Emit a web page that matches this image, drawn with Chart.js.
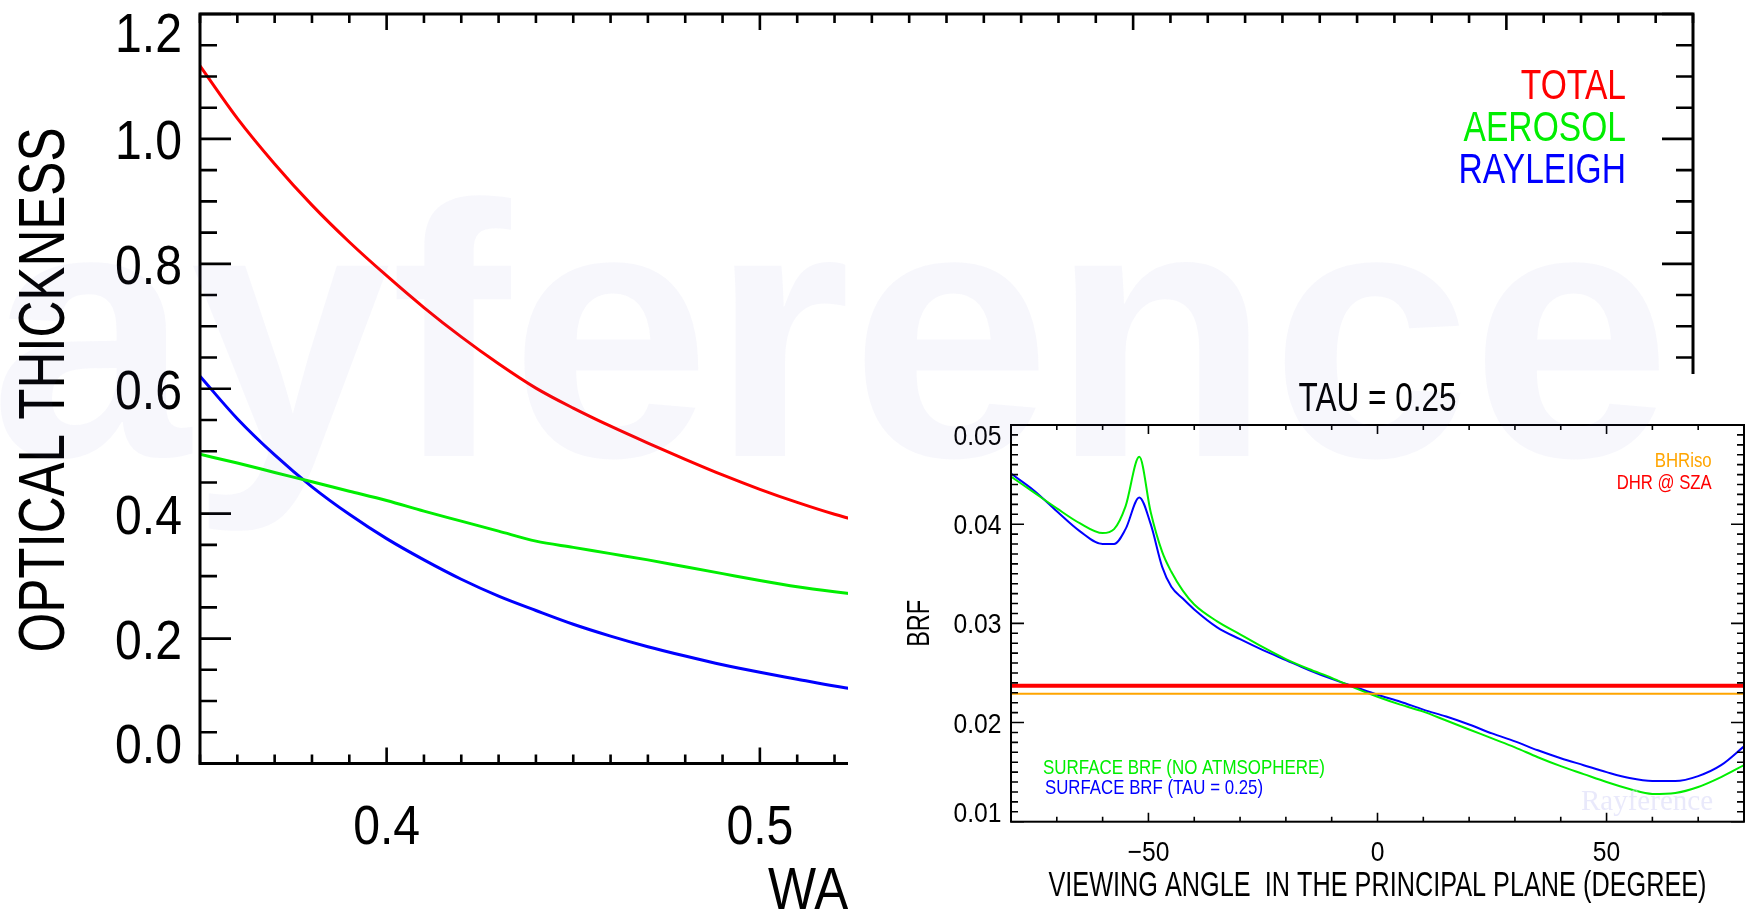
<!DOCTYPE html>
<html><head><meta charset="utf-8">
<script src="https://cdn.jsdelivr.net/npm/chart.js@4.4.1/dist/chart.umd.min.js"></script>
<style>
html,body{margin:0;padding:0;background:#fff;overflow:hidden;width:1750px;height:912px}
#main{position:absolute;left:0;top:0}
#inset{position:absolute;left:848px;top:374px;background:#fff}
#wm{position:absolute;left:0;top:0;pointer-events:none}
</style></head><body>
<canvas id="main" width="1750" height="912"></canvas>
<canvas id="inset" width="902" height="538"></canvas>
<canvas id="wm" width="1750" height="912"></canvas>
<script>
// ---------- main chart data ----------
const wavelength  = [0.35,0.36,0.37,0.38,0.39,0.40,0.41,0.42,0.43,0.44,0.45,0.46,0.47,0.48,0.49,0.50,0.51,0.52,0.53];
const totalTau    = [1.117,1.033,0.960,0.894,0.835,0.781,0.730,0.683,0.640,0.601,0.569,0.540,0.513,0.487,0.462,0.439,0.418,0.399,0.383];
const aerosolTau  = [0.495,0.481,0.466,0.451,0.436,0.421,0.404,0.388,0.372,0.356,0.346,0.336,0.326,0.315,0.304,0.293,0.283,0.275,0.268];
const rayleighTau = [0.620,0.552,0.494,0.443,0.399,0.360,0.326,0.295,0.268,0.245,0.223,0.204,0.187,0.172,0.158,0.146,0.135,0.124,0.115];
const mainXTicks = [0.4,0.5,0.6,0.7];
const mainXTickLabels = ['0.4','0.5','0.6','0.7'];
const mainYTicks = [0,0.2,0.4,0.6,0.8,1.0,1.2];
const mainYTickLabels = ['0.0','0.2','0.4','0.6','0.8','1.0','1.2'];
const mainLegend = ['TOTAL','AEROSOL','RAYLEIGH'];

// ---------- inset chart data ----------
const viewAngle = [-80,-75,-70,-65,-60,-57.5,-55,-52,-49.5,-47,-45,-42.5,-40,-35,-30,-25,-20,-15,-10,-5,0,5,10,15,20,25,30,35,40,45,50,55,60,65,70,75,80];
const brfNoAtm  = [0.0448,0.0432,0.0416,0.0401,0.0391,0.0395,0.0418,0.0468,0.0412,0.0372,0.0352,0.0333,0.0319,0.0302,0.0289,0.0276,0.0264,0.0254,0.0245,0.0235,0.0226,0.0218,0.0211,0.0202,0.0193,0.0184,0.0175,0.0165,0.0156,0.0148,0.0140,0.0133,0.0128,0.0129,0.0135,0.0145,0.0157];
const brfTau    = [0.0451,0.0434,0.0413,0.0393,0.0380,0.0380,0.0395,0.0427,0.0400,0.0357,0.0337,0.0325,0.0314,0.0296,0.0284,0.0273,0.0263,0.0253,0.0244,0.0236,0.0228,0.0221,0.0213,0.0206,0.0198,0.0189,0.0181,0.0172,0.0164,0.0157,0.0150,0.0144,0.0141,0.0141,0.0146,0.0157,0.0176];
const bhrIso = [0.0229,0.0229];
const dhrSza = [0.0237,0.0237];
const flatAngles = [-80,80];
const insetXTicks = [-50,0,50];
const insetXTickLabels = ['\u221250','0','50'];
const insetYTicks = [0.01,0.02,0.03,0.04,0.05];
const insetYTickLabels = ['0.01','0.02','0.03','0.04','0.05'];

const FONT = '"Liberation Sans", Arial, Helvetica, sans-serif';
const RED = '#ff0000', GREEN = '#00ee00', BLUE = '#0000ff', ORANGE = '#ffa500';

// text helper: (x, yc) = anchor, yc is vertical centre of capitals
function txt(ctx, s, x, yc, size, color, align, opt) {
  opt = opt || {};
  ctx.save();
  ctx.font = (opt.weight ? opt.weight + ' ' : '') + size + 'px ' + (opt.family || FONT);
  ctx.fillStyle = color;
  ctx.textBaseline = 'alphabetic';
  ctx.textAlign = align;
  ctx.translate(x, yc);
  if (opt.rot) ctx.rotate(opt.rot);
  let sx = opt.sx || 1;
  if (opt.width) sx = opt.width / ctx.measureText(s).width;
  ctx.scale(sx, 1);
  ctx.fillText(s, 0, size * 0.716 / 2);
  ctx.restore();
}
function pairs(xs, ys) { return xs.map((v, i) => ({x: v, y: ys[i]})); }
function clamp(v, lo, hi) { return Math.max(lo, Math.min(hi, v)); }

// ---------- main chart ----------
const mainAxes = {
  id: 'mainAxes',
  afterDraw(chart) {
    const {ctx, chartArea: a, scales: {x, y}} = chart;
    ctx.save();
    ctx.strokeStyle = '#000';
    ctx.lineCap = 'butt';
    ctx.lineWidth = 3;
    ctx.strokeRect(a.left, a.top, a.right - a.left, a.bottom - a.top);
    ctx.lineWidth = 2.6;
    ctx.beginPath();
    for (let i = 35; i <= 75; i++) {
      const px = x.getPixelForValue(i / 100);
      const len = (i % 10 === 0) ? 16 : 9;
      ctx.moveTo(px, a.bottom); ctx.lineTo(px, a.bottom - len);
      ctx.moveTo(px, a.top); ctx.lineTo(px, a.top + len);
    }
    for (let i = 0; i <= 24; i++) {
      const py = y.getPixelForValue(i * 0.05);
      const len = (i % 4 === 0) ? 31 : 17;
      ctx.moveTo(a.left, py); ctx.lineTo(a.left + len, py);
      ctx.moveTo(a.right, py); ctx.lineTo(a.right - len, py);
    }
    ctx.stroke();
    ctx.restore();
    mainYTicks.forEach((v, i) => {
      const py = clamp(y.getPixelForValue(v), a.top + 18, a.bottom - 21);
      txt(ctx, mainYTickLabels[i], a.left - 18, py, 56, '#000', 'right', {sx: 0.86});
    });
    mainXTicks.forEach((v, i) => {
      txt(ctx, mainXTickLabels[i], x.getPixelForValue(v), a.bottom + 60, 56, '#000', 'center', {sx: 0.86});
    });
    txt(ctx, 'OPTICAL THICKNESS', 41, 390, 65, '#000', 'center', {rot: -Math.PI / 2, width: 525});
    // x-axis title: only "WA" is visible, the rest lies behind the inset panel
    txt(ctx, 'WA', 768, 888, 60, '#000', 'left', {sx: 0.85});
    txt(ctx, 'VELENGTH', 852, 888, 60, '#000', 'left', {sx: 0.85});
    const lc = [RED, GREEN, BLUE];
    mainLegend.forEach((s, i) => {
      txt(ctx, s, 1626, 84 + i * 42, 42, lc[i], 'right', {sx: 0.8});
    });
  }
};

new Chart(document.getElementById('main'), {
  type: 'line',
  data: {
    datasets: [
      {label: 'TOTAL', data: pairs(wavelength, totalTau), borderColor: RED, borderWidth: 3},
      {label: 'AEROSOL', data: pairs(wavelength, aerosolTau), borderColor: GREEN, borderWidth: 3},
      {label: 'RAYLEIGH', data: pairs(wavelength, rayleighTau), borderColor: BLUE, borderWidth: 3}
    ]
  },
  options: {
    responsive: false, animation: false, devicePixelRatio: 1,
    layout: {padding: {left: 200, top: 14, right: 57, bottom: 148.5}},
    elements: {point: {radius: 0}, line: {cubicInterpolationMode: 'monotone', fill: false}},
    plugins: {legend: {display: false}, tooltip: {enabled: false}},
    scales: {
      x: {type: 'linear', min: 0.35, max: 0.75, display: false},
      y: {type: 'linear', min: 0, max: 1.2, display: false}
    }
  },
  plugins: [mainAxes]
});

// ---------- inset chart ----------
const insetAxes = {
  id: 'insetAxes',
  afterDraw(chart) {
    const {ctx, chartArea: a, scales: {x, y}} = chart;
    ctx.save();
    ctx.strokeStyle = '#000';
    ctx.lineWidth = 2;
    ctx.strokeRect(a.left, a.top, a.right - a.left, a.bottom - a.top);
    ctx.lineWidth = 1.6;
    ctx.beginPath();
    for (let i = -8; i <= 8; i++) {
      const px = x.getPixelForValue(i * 10);
      const len = (i % 5 === 0) ? 9 : 5;
      ctx.moveTo(px, a.bottom); ctx.lineTo(px, a.bottom - len);
      ctx.moveTo(px, a.top); ctx.lineTo(px, a.top + len);
    }
    for (let i = 10; i <= 50; i++) {
      const py = y.getPixelForValue(i / 1000);
      const len = (i % 10 === 0) ? 13 : 7;
      ctx.moveTo(a.left, py); ctx.lineTo(a.left + len, py);
      ctx.moveTo(a.right, py); ctx.lineTo(a.right - len, py);
    }
    ctx.stroke();
    ctx.restore();
    insetYTicks.forEach((v, i) => {
      const py = clamp(y.getPixelForValue(v), a.top + 10, a.bottom - 10);
      txt(ctx, insetYTickLabels[i], a.left - 9.5, py, 28, '#000', 'right', {sx: 0.88});
    });
    insetXTicks.forEach((v, i) => {
      txt(ctx, insetXTickLabels[i], x.getPixelForValue(v), a.bottom + 29.5, 28, '#000', 'center', {sx: 0.88});
    });
    const cx = (a.left + a.right) / 2;
    txt(ctx, 'TAU = 0.25', cx, 23, 40, '#000', 'center', {width: 158});
    txt(ctx, 'VIEWING ANGLE  IN THE PRINCIPAL PLANE (DEGREE)', cx, 509, 35, '#000', 'center', {width: 658});
    txt(ctx, 'BRF', 70, (a.top + a.bottom) / 2, 32, '#000', 'center', {rot: -Math.PI / 2, width: 47});
    txt(ctx, 'BHRiso', 863.7, 85, 21, ORANGE, 'right', {width: 57});
    txt(ctx, 'DHR @ SZA', 863.7, 107, 21, RED, 'right', {width: 95});
    txt(ctx, 'SURFACE BRF (NO ATMSOPHERE)', 195, 392, 21, GREEN, 'left', {width: 282});
    txt(ctx, 'SURFACE BRF (TAU = 0.25)', 197, 412, 21, BLUE, 'left', {width: 218});
    ctx.save();
    ctx.font = '29px "Liberation Serif", "Times New Roman", serif';
    ctx.fillStyle = 'rgba(215,215,248,0.55)';
    ctx.textAlign = 'left';
    ctx.textBaseline = 'alphabetic';
    ctx.fillText('Rayference', 733, 436);
    ctx.restore();
  }
};

new Chart(document.getElementById('inset'), {
  type: 'line',
  data: {
    datasets: [
      {label: 'BHRiso', data: pairs(flatAngles, bhrIso), borderColor: ORANGE, borderWidth: 2},
      {label: 'DHR @ SZA', data: pairs(flatAngles, dhrSza), borderColor: RED, borderWidth: 4},
      {label: 'SURFACE BRF (NO ATMSOPHERE)', data: pairs(viewAngle, brfNoAtm), borderColor: GREEN, borderWidth: 2},
      {label: 'SURFACE BRF (TAU = 0.25)', data: pairs(viewAngle, brfTau), borderColor: BLUE, borderWidth: 2}
    ]
  },
  options: {
    responsive: false, animation: false, devicePixelRatio: 1,
    layout: {padding: {left: 163, top: 51, right: 6, bottom: 90.3}},
    elements: {point: {radius: 0}, line: {cubicInterpolationMode: 'monotone', fill: false}},
    plugins: {legend: {display: false}, tooltip: {enabled: false}},
    scales: {
      x: {type: 'linear', min: -80, max: 80, display: false},
      y: {type: 'linear', min: 0.01, max: 0.05, display: false}
    }
  },
  plugins: [insetAxes]
});

// ---------- faint watermark over everything ----------
(function () {
  const c = document.getElementById('wm').getContext('2d');
  c.font = 'bold 360px ' + FONT;
  c.fillStyle = 'rgba(100,100,200,0.05)';
  c.textBaseline = 'alphabetic';
  c.textAlign = 'left';
  c.fillText('Rayference', -270, 456);
})();
</script>
</body></html>
